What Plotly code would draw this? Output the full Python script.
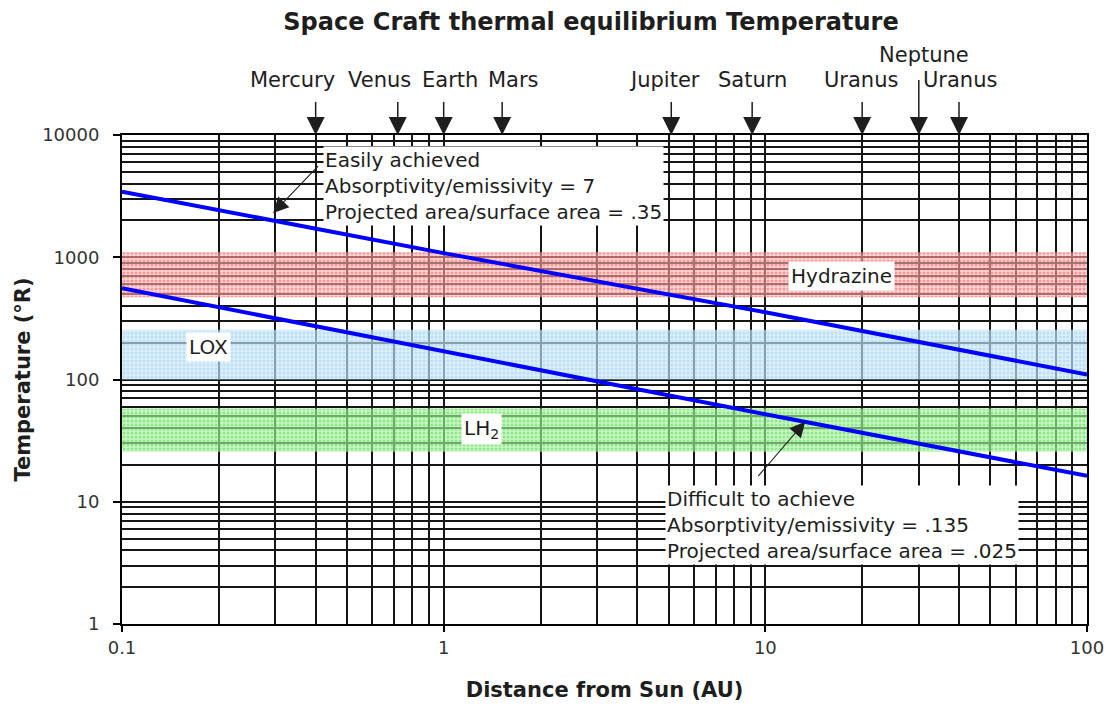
import math
import plotly.graph_objects as go

# Equilibrium temperature (°R) vs. distance from the Sun (AU)
distance_au = [0.1, 1, 10, 100]
temp_easy = [3440, 1080, 355, 110]        # absorptivity/emissivity = 7, area ratio = .35
temp_difficult = [557, 170, 52, 16.3]     # absorptivity/emissivity = .135, area ratio = .025

# Propellant storage temperature bands (°R)
band_names = ["Hydrazine", "LOX", "LH<sub>2</sub>"]
band_low = [470, 100, 25.6]
band_high = [1100, 255, 58]

# Planet markers along the top edge
planet_names = ["Mercury", "Venus", "Earth", "Mars", "Jupiter", "Saturn", "Uranus", "Neptune", "Uranus"]
planet_au = [0.40, 0.72, 1.0, 1.52, 5.1, 9.1, 20, 30, 40]

X_MIN, X_MAX = 0.1, 100
Y_MIN, Y_MAX = 1, 10000

FONT = "DejaVu Sans"
TEXT = "#1e1e1e"
GRID = "#151515"

band_fg = ["rgba(240,60,60,0.8)", "rgba(120,185,235,0.6)", "rgba(50,205,50,0.75)"]
band_bg = ["rgba(250,185,185,0.6)", "rgba(200,230,248,0.65)", "rgba(170,242,160,0.65)"]

fig = go.Figure()

for name, lo, hi, fg, bg in zip(band_names, band_low, band_high, band_fg, band_bg):
    fig.add_trace(go.Scatter(
        x=[X_MIN, X_MAX, X_MAX, X_MIN, X_MIN],
        y=[lo, lo, hi, hi, lo],
        mode="none", fill="toself", fillcolor=bg,
        fillpattern=dict(shape=".", fgcolor=fg, bgcolor=bg, size=4, solidity=0.45),
        hoverinfo="skip", showlegend=False, name=name,
    ))

for temps in (temp_easy, temp_difficult):
    fig.add_trace(go.Scatter(
        x=distance_au, y=temps, mode="lines",
        line=dict(color="#0000ff", width=4),
        hoverinfo="skip", showlegend=False,
    ))

annotations = []

# planet arrows and their names
label_shift = [-23, -18, 6, 11, -7, 0, -1, 5, 1]
for name, au, dx in zip(planet_names, planet_au, label_shift):
    tall = name == "Neptune"
    annotations.append(dict(
        x=math.log10(au), y=1, xref="x", yref="paper", text=" ",
        showarrow=True, ax=0, ay=-65 if tall else -43,
        arrowhead=2, arrowsize=2.4, arrowwidth=1.5, arrowcolor=TEXT,
    ))
    annotations.append(dict(
        x=math.log10(au), y=1, xref="x", yref="paper", text=name,
        showarrow=False, xshift=dx, yshift=80 if tall else 55,
        xanchor="center", yanchor="middle",
        font=dict(family=FONT, size=21, color=TEXT),
    ))

# band labels
band_label_pos = [(17.3, 703), (0.186, 184), (1.31, 39.4)]
for name, (bx, by) in zip(band_names, band_label_pos):
    annotations.append(dict(
        x=math.log10(bx), y=math.log10(by), xref="x", yref="y", text=name,
        showarrow=False, bgcolor="white", borderpad=2,
        font=dict(family=FONT, size=20, color=TEXT),
    ))

# descriptive boxes
box_font = dict(family=FONT, size=20, color=TEXT)
annotations.append(dict(
    x=0.208, y=0.9775, xref="paper", yref="paper", xanchor="left", yanchor="top",
    text="Easily achieved<br>Absorptivity/emissivity = 7<br>Projected area/surface area = .35",
    align="left", showarrow=False, bgcolor="white", borderpad=1, font=box_font,
))
annotations.append(dict(
    x=0.5627, y=0.284, xref="paper", yref="paper", xanchor="left", yanchor="top",
    text="Difficult to achieve<br>Absorptivity/emissivity = .135<br>Projected area/surface area = .025",
    align="left", showarrow=False, bgcolor="white", borderpad=1, font=box_font,
))
# pointers from the boxes to their curves
annotations.append(dict(
    x=math.log10(0.295), y=math.log10(2300), xref="x", yref="y", text=" ",
    showarrow=True, ax=48, ay=-50, arrowhead=2, arrowsize=2.8, arrowwidth=1.1,
    arrowcolor=TEXT,
))
annotations.append(dict(
    x=math.log10(13.3), y=math.log10(45.2), xref="x", yref="y", text=" ",
    showarrow=True, ax=-50, ay=58, arrowhead=2, arrowsize=2.8, arrowwidth=1.1,
    arrowcolor=TEXT,
))

axis_common = dict(
    type="log", showgrid=True, gridcolor=GRID, gridwidth=1.5,
    minor=dict(dtick="D1", showgrid=True, gridcolor=GRID, gridwidth=1.5, ticks=""),
    showline=True, linecolor="black", linewidth=2, mirror=True,
    ticks="outside", tickcolor="black", tickwidth=1.5,
    zeroline=False, dtick=1, automargin=False,
    tickfont=dict(family=FONT, size=18, color="#333333"),
)

fig.update_layout(
    width=1109, height=706,
    margin=dict(l=122, r=22, t=135, b=82, autoexpand=False),
    paper_bgcolor="white", plot_bgcolor="white",
    title=dict(
        text="<b>Space Craft thermal equilibrium Temperature</b>",
        x=0.486, xref="paper", xanchor="center",
        y=0.970, yref="container", yanchor="middle",
        font=dict(family=FONT, size=24, color=TEXT),
    ),
    xaxis=dict(
        axis_common, range=[math.log10(X_MIN), math.log10(X_MAX)], ticklen=6,
        title=dict(text="<b>Distance from Sun (AU)</b>", standoff=26,
                   font=dict(family=FONT, size=21, color=TEXT)),
    ),
    yaxis=dict(
        axis_common, range=[math.log10(Y_MIN), math.log10(Y_MAX)], ticklen=7,
        tickformat="d", ticklabelstandoff=10,
        title=dict(text="<b>Temperature (°R)</b>", standoff=6,
                   font=dict(family=FONT, size=21, color=TEXT)),
    ),
    annotations=annotations,
    showlegend=False,
)

fig.write_html("out.html")
